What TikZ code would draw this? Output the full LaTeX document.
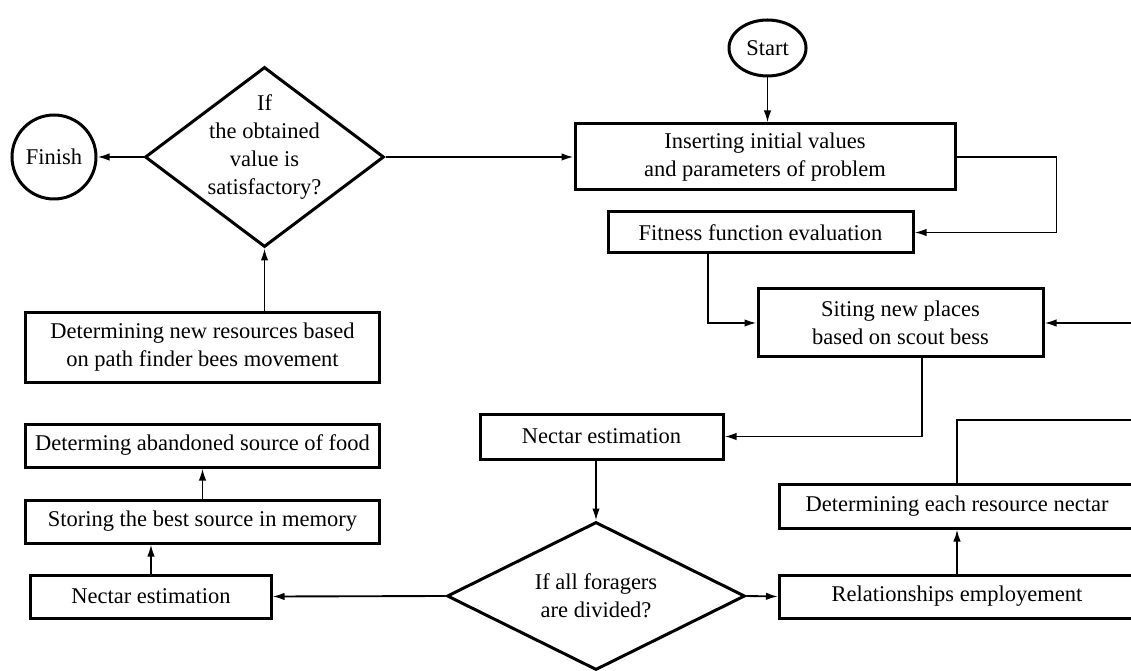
\documentclass[tikz,border=0pt]{standalone}
\usepackage{fontspec}
\setmainfont{Liberation Serif}
\usetikzlibrary{shapes.geometric,arrows.meta}

\begin{document}
\begin{tikzpicture}[x=0.4pt,y=-0.4pt,
	txt/.style={font=\fontsize{9}{11.2}\selectfont, align=center},
	box/.style={draw, line width=1.2pt, rectangle, inner sep=1pt, txt},
	decide/.style={draw, line width=1.2pt, diamond, inner sep=0pt},
	term/.style={draw, line width=1.2pt, ellipse, inner sep=0pt, txt},
	link/.style={line width=0.75pt, -{Latex[length=4.8pt,width=3pt]}},
	wire/.style={line width=0.75pt}]
		\useasboundingbox (0,0) rectangle (1131,671);
		\clip (0,0) rectangle (1131,671);
		% terminals and decisions
		\node[term, minimum width=30.8pt, minimum height=22.4pt] (start) at (767.5,48) {Start};
		\node[term, circle, minimum size=33.6pt] (finish) at (54,157) {Finish};
		\node[decide, minimum width=95.6pt, minimum height=72pt,
			label={[txt, yshift=4pt]center:{If\\the obtained\\value is\\satisfactory?}}] (sat) at (264.5,157) {};
		\node[decide, minimum width=119.2pt, minimum height=59.2pt,
			label={[txt]center:{If all foragers\\are divided?}}] (div) at (596,596) {};
		% process boxes
		\node[box, minimum width=152pt, minimum height=26.4pt] (init) at (765,157) {Inserting initial values\\and parameters of problem};
		\node[box, minimum width=122pt, minimum height=16.4pt] (fit) at (760.5,232.5) {Fitness function evaluation};
		\node[box, minimum width=114pt, minimum height=27.2pt] (site) at (900.5,323) {Siting new places\\based on scout bess};
		\node[box, minimum width=97.2pt, minimum height=18pt] (nect) at (601.5,436.5) {Nectar estimation};
		\node[box, minimum width=96pt, minimum height=17.2pt] (nectL) at (151,596.5) {Nectar estimation};
		\node[box, minimum width=141.2pt, minimum height=17.2pt] (store) at (202.5,521.5) {Storing the best source in memory};
		\node[box, minimum width=141.2pt, minimum height=17.2pt] (aband) at (202.5,445.5) {Determing abandoned source of food};
		\node[box, minimum width=141.2pt, minimum height=27.6pt] (newres) at (202.5,347.5) {Determining new resources based\\on path finder bees movement};
		\node[box, minimum width=142pt, minimum height=17.6pt] (each) at (957,506) {Determining each resource nectar};
		\node[box, minimum width=142pt, minimum height=17.2pt] (rel) at (957,596.5) {Relationships employement};
		% loose ends at the right margin
		\coordinate (rin) at (1131,323);
		\coordinate (rout) at (1131,420);
		% connectors
		\draw[link] (start.south) -- (start.south |- init.north);
		\draw[link] (sat.east) -- (init.west);
		\draw[link] (sat.west) -- (finish.east);
		\draw[link] (sat.south |- newres.north) -- (sat.south);
		\draw[link] (init.east) -- ++(40pt,0) |- (fit.east);
		\draw[link] ([xshift=-21pt]fit.south) |- (site.west);
		\draw[link] (rin) -- (site.east);
		\draw[link] ([xshift=8.6pt]site.south) |- (nect.east);
		\draw[link] (div.north |- nect.south) -- (div.north);
		\draw[link] (div.west) -- (nectL.east);
		\draw[link] (div.east) -- (rel.west);
		\draw[link] (nectL.north) -- (nectL.north |- store.south);
		\draw[link] (store.north) -- (aband.south);
		\draw[link] (rel.north) -- (each.south);
		\draw[wire] (each.north) |- (rout);
	\end{tikzpicture}
\end{document}
